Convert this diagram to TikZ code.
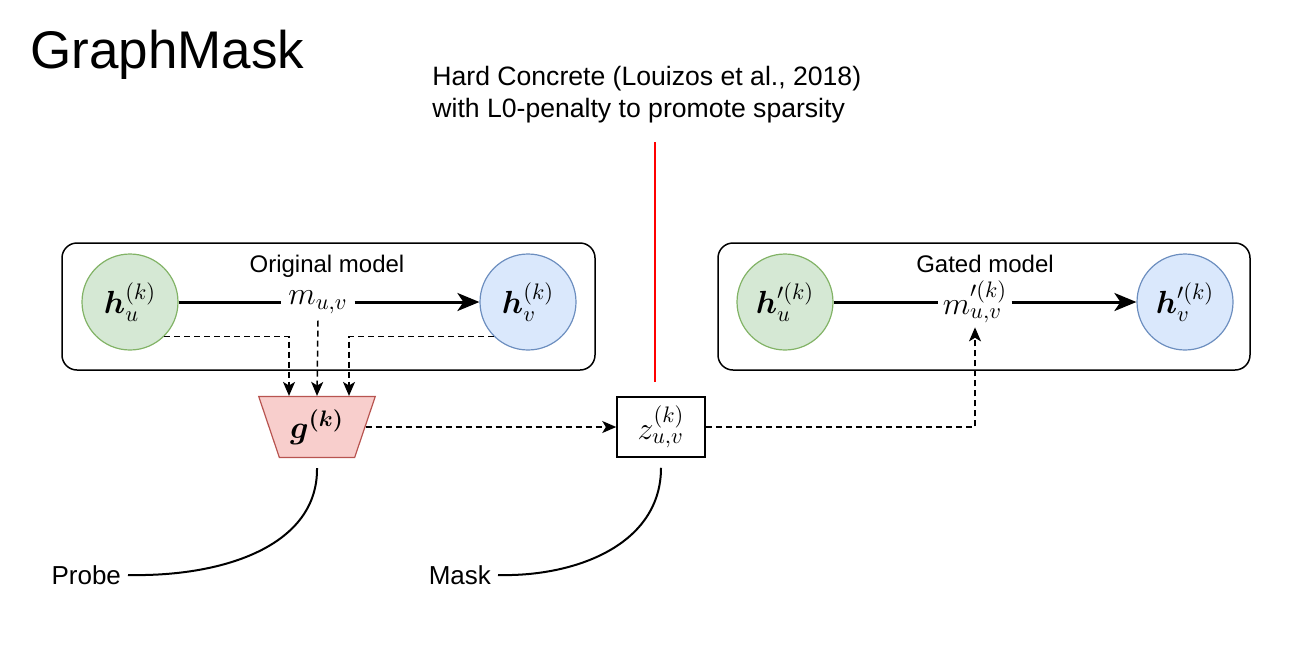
\RequirePackage{fix-cm}
\documentclass[tikz,border=0pt]{standalone}
\usepackage{amsmath}
\usepackage{fontspec}
\setmainfont{Liberation Sans}
\usetikzlibrary{arrows.meta,shapes.geometric,calc}

\definecolor{ngreen}{HTML}{D5E8D4}
\definecolor{dgreen}{HTML}{82B366}
\definecolor{nblue}{HTML}{DAE8FC}
\definecolor{dblue}{HTML}{6C8EBF}
\definecolor{npink}{HTML}{F8CECC}
\definecolor{dred}{HTML}{B85450}

\tikzset{
  mathlbl/.style={font=\fontsize{16}{19}\selectfont},
  state/.style={circle,line width=0.6pt,minimum size=48pt,inner sep=0pt,mathlbl},
  panel/.style={draw,line width=0.75pt,rounded corners=7.5pt},
  msg/.style={line width=1.5pt,-{Stealth[length=11pt,width=9pt,inset=3pt]}},
  dasharrow/.style={line width=0.75pt,dash pattern=on 3pt off 2pt,-{Stealth[length=7pt,width=6pt,inset=1.8pt]}},
  callout/.style={line width=1pt},
}

\begin{document}
\begin{tikzpicture}[x=0.5pt,y=-0.5pt]
    \useasboundingbox (0,0) rectangle (1300,660);
    % titles
    \node[anchor=base west,inner sep=0pt,font=\fontsize{26.5}{30}\selectfont] (title) at (30,68) {GraphMask};
    \node[anchor=north west,inner sep=0pt,align=left,font=\fontsize{13.3}{16}\selectfont] (hc) at (432,66)
        {Hard Concrete (Louizos et al., 2018)\\with L0-penalty to promote sparsity};
    \draw[red,line width=0.6pt] (655,142) coordinate (hctop) -- (655,382) coordinate (hcbot);
    % original model
    \draw[panel] (62,243) rectangle (595,370);
    \node[font=\fontsize{12}{14}\selectfont] (origlbl) at (327,266) {Original model};
    \node[state,draw=dgreen,fill=ngreen] (hu) at (130,302) {$\boldsymbol{h}_u^{(k)}$};
    \node[state,draw=dblue,fill=nblue] (hv) at (528,302) {$\boldsymbol{h}_v^{(k)}$};
    \node[mathlbl] (m) at (318,302) {$m_{u,v}$};
    \draw[line width=1.5pt] (hu) -- (m);
    \draw[msg] (m) -- (hv);
    % gated model
    \draw[panel] (718,243) rectangle (1250,370);
    \node[font=\fontsize{12}{14}\selectfont] (gatedlbl) at (985,264) {Gated model};
    \node[state,draw=dgreen,fill=ngreen] (hpu) at (785,302) {$\boldsymbol{h}_u^{\prime(k)}$};
    \node[state,draw=dblue,fill=nblue] (hpv) at (1185,302) {$\boldsymbol{h}_v^{\prime(k)}$};
    \node[mathlbl,inner sep=2pt] (mp) at (975,302) {$m_{u,v}^{\prime(k)}$};
    \draw[line width=1.5pt] (hpu) -- (hpu -| mp.west);
    \draw[msg] (hpv -| mp.east) -- (hpv);
    % probe and mask
    \node[trapezium,trapezium angle=67,shape border rotate=180,trapezium stretches=true,
          minimum width=58.5pt,minimum height=30.5pt,inner sep=0pt,
          draw=dred,fill=npink,line width=0.6pt,mathlbl] (g) at (317,427) {$\boldsymbol{g^{(k)}}$};
    \node[draw,line width=0.75pt,minimum width=44pt,minimum height=30pt,inner sep=0pt,mathlbl] (z) at (661,427) {$z_{u,v}^{(k)}$};
    \draw[dasharrow] (hu.-45) -| ($(g.north)+(-28,0)$);
    \draw[dasharrow] (m.south) -- (g.north);
    \draw[dasharrow] (hv.-135) -| ($(g.north)+(32,0)$);
    \draw[dasharrow] (g) -- (z);
    \draw[dasharrow] (z.east) -| (mp.south);
    % labels below
    \node[anchor=east,font=\fontsize{13}{15}\selectfont] (probe) at (128,575) {Probe};
    \node[anchor=east,font=\fontsize{13}{15}\selectfont] (mask) at (498,575) {Mask};
    \draw[callout] (probe.east) .. controls (225,577) and (318,545) .. ($(g.south)+(0,10)$);
    \draw[callout] (mask.east) .. controls (575,577) and (661,545) .. ($(z.south)+(0,10)$);
\end{tikzpicture}
\end{document}
